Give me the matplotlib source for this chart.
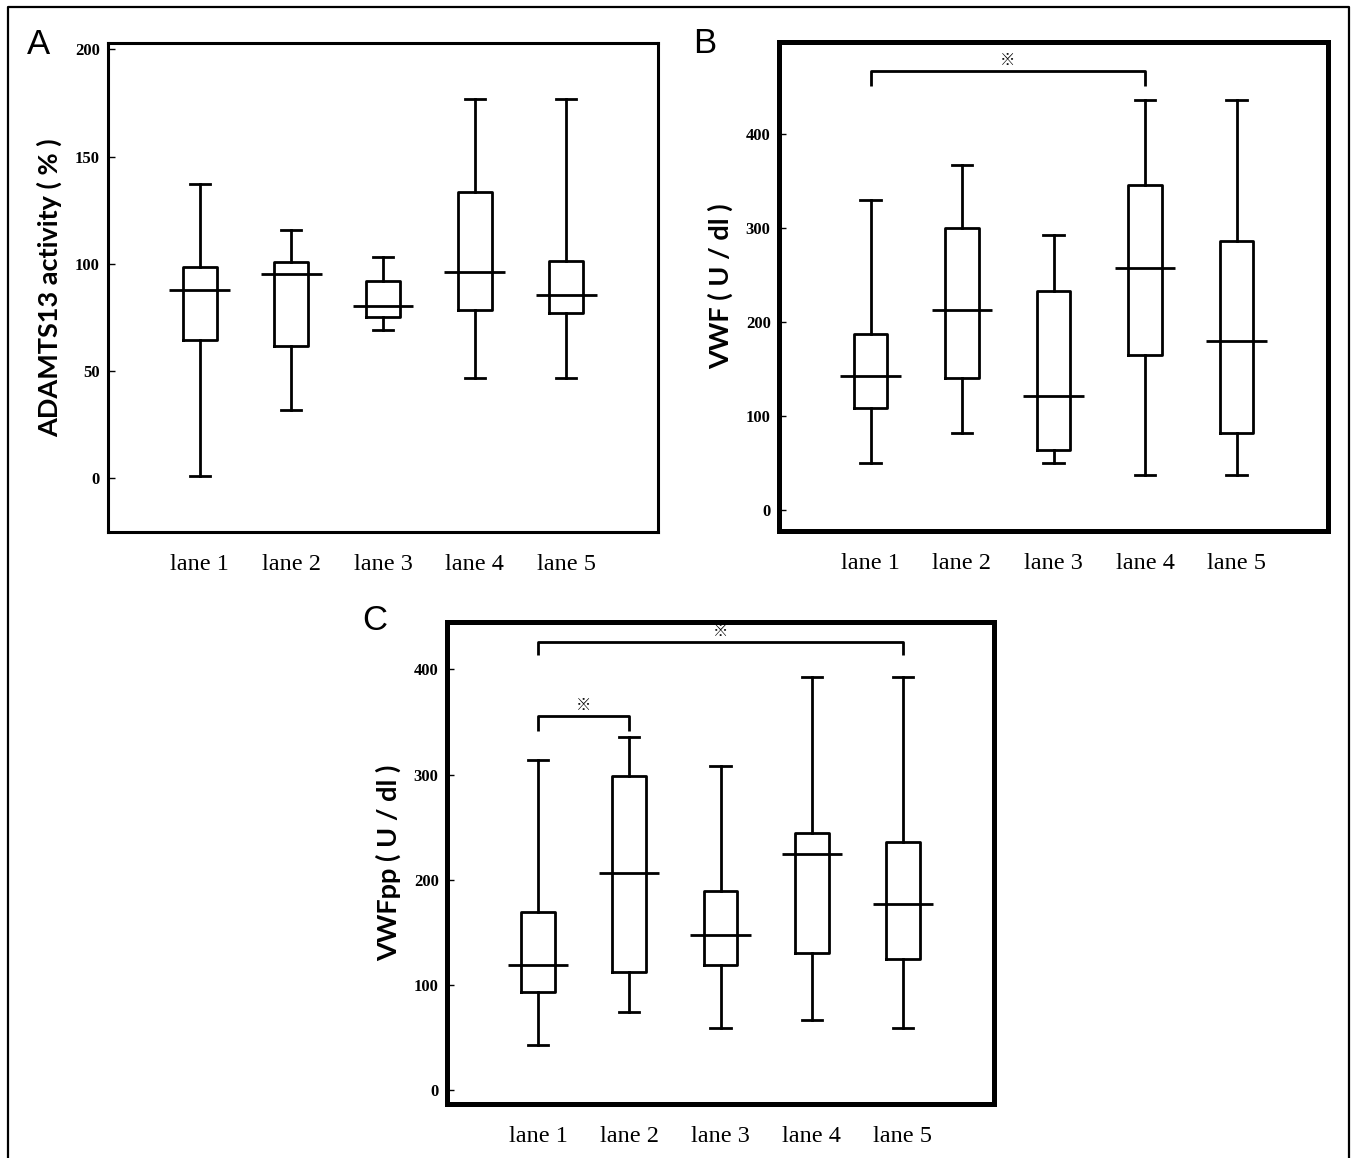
import matplotlib
matplotlib.use("Agg")
import matplotlib.pyplot as plt
from matplotlib.lines import Line2D

W, H = 1353, 1158

lanes = ["lane 1", "lane 2", "lane 3", "lane 4", "lane 5"]

# ADAMTS13 activity (%)
adamts_lo = [1.3, 31.8, 69.4, 47.0, 47.0]
adamts_q1 = [64.6, 61.7, 75.1, 78.4, 76.9]
adamts_med = [87.8, 95.2, 80.5, 96.1, 85.7]
adamts_q3 = [98.7, 100.7, 91.8, 133.5, 101.4]
adamts_hi = [137.2, 115.7, 103.4, 177.1, 177.1]

# VWF (U/dl)
vwf_lo = [50.7, 82.4, 50.7, 37.3, 37.3]
vwf_q1 = [109.1, 140.4, 64.1, 165.1, 82.4]
vwf_med = [142.4, 213.0, 121.3, 257.2, 179.7]
vwf_q3 = [187.8, 300.2, 233.7, 346.4, 286.0]
vwf_hi = [330.0, 366.7, 292.9, 436.5, 436.5]

# VWFpp (U/dl)
vwfpp_lo = [42.9, 74.0, 59.5, 66.6, 59.5]
vwfpp_q1 = [93.0, 112.9, 119.4, 130.5, 124.8]
vwfpp_med = [118.7, 206.3, 147.4, 224.9, 177.5]
vwfpp_q3 = [169.7, 298.2, 189.3, 244.8, 236.3]
vwfpp_hi = [314.1, 336.1, 308.0, 392.9, 392.9]

# significance brackets: (lane a, lane b, leg bottom, bar height)
vwf_sig = [(1, 4, 451, 467)]
vwfpp_sig = [(1, 5, 413.5, 426.4), (1, 2, 341, 356)]

plt.rcParams["font.family"] = ["Liberation Serif", "DejaVu Serif"]

fig = plt.figure(figsize=(W / 100, H / 100), dpi=100)


def rect(l, t, r, b):
    return [l / W, 1 - b / H, (r - l) / W, (b - t) / H]


def panel(pos, lo, q1, med, q3, hi, yticks, ylim, ylabel, spine_w, sig=()):
    ax = fig.add_axes(pos)
    stats = []
    for i in range(len(lanes)):
        stats.append(dict(whislo=lo[i], q1=q1[i], med=med[i], q3=q3[i],
                          whishi=hi[i], fliers=[], label=lanes[i]))
    xs = list(range(1, len(lanes) + 1))
    lw = 2.0
    ax.bxp(stats, positions=xs, widths=0.37, capwidths=0.22,
           showfliers=False,
           boxprops=dict(color="black", linewidth=lw),
           whiskerprops=dict(color="black", linewidth=lw),
           capprops=dict(color="black", linewidth=lw),
           medianprops=dict(linewidth=0))
    ax.hlines(med, [x - 0.33 for x in xs], [x + 0.33 for x in xs],
              color="black", linewidth=lw)
    for a, b, leg, bar in sig:
        ax.plot([a, a, b, b], [leg, bar, bar, leg], color="black",
                linewidth=lw, solid_capstyle="butt")
        ax.text((a + b) / 2, bar + 3 * (ylim[1] - ylim[0]) / 490, "※",
                ha="center", va="bottom", fontsize=11, fontweight="bold",
                family=["Noto Sans CJK JP", "DejaVu Sans"])
    ax.set_xlim(0, 6)
    ax.set_ylim(*ylim)
    ax.set_xticks(xs)
    ax.set_xticklabels(lanes, fontsize=17.5)
    ax.set_yticks(yticks)
    ax.set_yticklabels([str(t) for t in yticks], fontsize=12,
                       fontweight="bold")
    ax.tick_params(axis="x", length=0, pad=16)
    ax.tick_params(axis="y", direction="in", length=5, width=1, pad=6)
    for s in ax.spines.values():
        s.set_linewidth(spine_w)
    ax.set_ylabel(ylabel, family=["Lato", "DejaVu Sans"], fontweight="bold",
                  fontsize=19.5, labelpad=9)
    return ax


axA = panel(rect(108, 43, 658, 532), adamts_lo, adamts_q1, adamts_med,
            adamts_q3, adamts_hi, [0, 50, 100, 150, 200], (-25, 203),
            "ADAMTS13 activity ( % )", 2.2)
axB = panel(rect(779, 42, 1328, 531), vwf_lo, vwf_q1, vwf_med, vwf_q3,
            vwf_hi, [0, 100, 200, 300, 400], (-22, 498),
            "VWF ( U / dl )", 3.6, vwf_sig)
axC = panel(rect(447, 622, 994, 1104), vwfpp_lo, vwfpp_q1, vwfpp_med,
            vwfpp_q3, vwfpp_hi, [0, 100, 200, 300, 400], (-13, 445),
            "VWFpp ( U / dl )", 3.6, vwfpp_sig)

for letter, (x, y) in {"A": (27, 54), "B": (693, 53), "C": (362, 630)}.items():
    fig.text(x / W, 1 - y / H, letter, family=["Liberation Sans"],
             fontsize=25, ha="left", va="baseline")

# outer frame (left, top and right edges)
fx = [8 / W, 8 / W, 1349 / W, 1349 / W]
fy = [0, 1 - 7 / H, 1 - 7 / H, 0]
fig.add_artist(Line2D(fx, fy, color="black", linewidth=1.6,
                      transform=fig.transFigure))

fig.savefig("out.png", dpi=100)
